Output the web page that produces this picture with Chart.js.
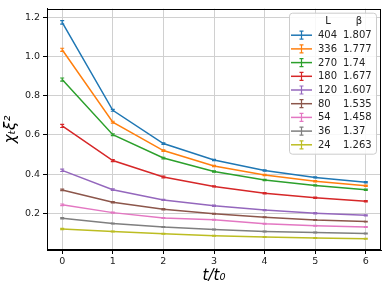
<!DOCTYPE html>
<html><head><meta charset="utf-8">
<script src="https://cdn.jsdelivr.net/npm/chart.js@4/dist/chart.umd.min.js"></script>
<style>html,body{margin:0;padding:0;background:#fff}#wrap{width:382px;height:283px}</style>
</head><body><div id="wrap"><canvas id="c" width="382" height="283"></canvas></div>
<script>
const tValues = [0, 1, 2, 3, 4, 5, 6];
const L = [404, 336, 270, 180, 120, 80, 54, 36, 24];
const beta = ['1.807', '1.777', '1.74', '1.677', '1.607', '1.535', '1.458', '1.37', '1.263'];
const chi404 = [1.175, 0.726, 0.556, 0.472, 0.418, 0.383, 0.358];
const chi336 = [1.035, 0.665, 0.520, 0.441, 0.395, 0.363, 0.340];
const chi270 = [0.883, 0.601, 0.482, 0.413, 0.370, 0.342, 0.320];
const chi180 = [0.646, 0.469, 0.385, 0.337, 0.302, 0.279, 0.261];
const chi120 = [0.419, 0.320, 0.268, 0.238, 0.216, 0.200, 0.189];
const chi80  = [0.319, 0.256, 0.220, 0.197, 0.179, 0.165, 0.157];
const chi54  = [0.243, 0.203, 0.175, 0.167, 0.146, 0.136, 0.129];
const chi36  = [0.174, 0.147, 0.129, 0.117, 0.107, 0.101, 0.096];
const chi24  = [0.119, 0.107, 0.095, 0.085, 0.078, 0.073, 0.070];
const err404 = [0.009, 0.005, 0.004, 0.003, 0.003, 0.003, 0.003];
const err336 = [0.008, 0.005, 0.004, 0.003, 0.003, 0.003, 0.003];
const err270 = [0.008, 0.005, 0.004, 0.003, 0.003, 0.003, 0.003];
const err180 = [0.008, 0.005, 0.004, 0.003, 0.003, 0.003, 0.003];
const err120 = [0.006, 0.004, 0.003, 0.003, 0.003, 0.003, 0.003];
const err80  = [0.004, 0.003, 0.003, 0.002, 0.002, 0.002, 0.002];
const err54  = [0.004, 0.003, 0.002, 0.002, 0.002, 0.002, 0.002];
const err36  = [0.003, 0.002, 0.002, 0.002, 0.002, 0.002, 0.002];
const err24  = [0.003, 0.002, 0.002, 0.002, 0.002, 0.002, 0.002];
const yTicks = [0.2, 0.4, 0.6, 0.8, 1.0, 1.2];
const xTicks = [0, 1, 2, 3, 4, 5, 6];

const series = [chi404, chi336, chi270, chi180, chi120, chi80, chi54, chi36, chi24];
const errs = [err404, err336, err270, err180, err120, err80, err54, err36, err24];
const colors = ['#1f77b4', '#ff7f0e', '#2ca02c', '#d62728', '#9467bd', '#8c564b', '#e377c2', '#7f7f7f', '#bcbd22'];
const FONT = 'DejaVu Sans';

const datasets = series.map((s, i) => ({
  label: String(L[i]),
  beta: beta[i],
  errors: errs[i],
  data: tValues.map((t, j) => ({x: t, y: s[j]})),
  borderColor: colors[i],
  backgroundColor: colors[i],
  borderWidth: 1.5,
  pointRadius: 0,
  showLine: true,
  tension: 0
}));

const errorBars = {
  id: 'errorBars',
  afterDatasetsDraw(chart) {
    const ctx = chart.ctx, xs = chart.scales.x, ys = chart.scales.y;
    ctx.save();
    chart.data.datasets.forEach(ds => {
      ctx.strokeStyle = ds.borderColor;
      ctx.lineWidth = 1.2;
      ds.data.forEach((p, j) => {
        const e = ds.errors[j];
        const px = xs.getPixelForValue(p.x);
        const y1 = ys.getPixelForValue(p.y - e), y2 = ys.getPixelForValue(p.y + e);
        ctx.beginPath();
        ctx.moveTo(px, y1); ctx.lineTo(px, y2);
        ctx.moveTo(px - 2, y1); ctx.lineTo(px + 2, y1);
        ctx.moveTo(px - 2, y2); ctx.lineTo(px + 2, y2);
        ctx.stroke();
      });
    });
    ctx.restore();
  }
};

const frameAndLegend = {
  id: 'frameAndLegend',
  afterDraw(chart) {
    const ctx = chart.ctx, a = chart.chartArea;
    ctx.save();
    ctx.strokeStyle = '#000';
    ctx.lineWidth = 1;
    ctx.strokeRect(Math.round(a.left) + 0.5, Math.round(a.top) + 0.5, Math.round(a.right - a.left) - 1, Math.round(a.bottom - a.top) - 1);
    // legend
    const bx = a.right - 92, by = a.top + 4, bw = 87, bh = 141;
    ctx.fillStyle = 'rgba(255,255,255,0.85)';
    ctx.strokeStyle = '#cccccc';
    ctx.beginPath();
    ctx.roundRect(bx + 0.5, by + 0.5, bw, bh, 3);
    ctx.fill(); ctx.stroke();
    ctx.fillStyle = '#222';
    ctx.font = '10px "' + FONT + '"';
    ctx.textBaseline = 'middle';
    ctx.textAlign = 'center';
    ctx.fillText('L', bx + 39, by + 9);
    ctx.fillText('β', bx + 70, by + 9);
    chart.data.datasets.forEach((ds, i) => {
      const ry = by + 22.5 + i * 13.7;
      ctx.strokeStyle = ds.borderColor;
      ctx.lineWidth = 1.5;
      ctx.beginPath();
      ctx.moveTo(bx + 2, ry); ctx.lineTo(bx + 23, ry);
      ctx.stroke();
      ctx.lineWidth = 1.2;
      const cx = bx + 12.5;
      ctx.beginPath();
      ctx.moveTo(cx, ry - 4); ctx.lineTo(cx, ry + 4);
      ctx.moveTo(cx - 2, ry - 4); ctx.lineTo(cx + 2, ry - 4);
      ctx.moveTo(cx - 2, ry + 4); ctx.lineTo(cx + 2, ry + 4);
      ctx.stroke();
      ctx.fillStyle = '#222';
      ctx.textAlign = 'left';
      ctx.fillText(ds.label, bx + 29, ry + 0.5);
      ctx.fillText(ds.beta, bx + 54, ry + 0.5);
    });
    ctx.restore();
  }
};

new Chart(document.getElementById('c'), {
  type: 'scatter',
  data: {datasets},
  options: {
    responsive: false,
    animation: false,
    devicePixelRatio: 1,
    layout: {padding: {top: 1, right: 1, left: 2, bottom: 0}},
    plugins: {legend: {display: false}, tooltip: {enabled: false}},
    scales: {
      x: {
        type: 'linear', min: -0.3, max: 6.3,
        afterBuildTicks(s) { s.ticks = xTicks.map(v => ({value: v})); },
        afterFit(s) { s.height = 33; },
        grid: {color: '#d0d0d0', lineWidth: 1, tickLength: 4, tickColor: '#000', drawTicks: true},
        border: {color: '#000', width: 1},
        ticks: {color: '#222', font: {family: FONT, size: 9.5}, padding: 2, maxRotation: 0, callback: v => String(v)},
        title: {display: true, text: 't/t₀', color: '#000', font: {family: FONT, size: 15, style: 'italic'}, padding: {top: 3, bottom: -2}}
      },
      y: {
        type: 'linear', min: 0.012, max: 1.245,
        afterBuildTicks(s) { s.ticks = yTicks.map(v => ({value: v})); },
        afterFit(s) { s.width = 45; },
        grid: {color: '#d0d0d0', lineWidth: 1, tickLength: 4, tickColor: '#000', drawTicks: true},
        border: {color: '#000', width: 1},
        ticks: {color: '#222', font: {family: FONT, size: 9.5}, padding: 3, callback: v => v.toFixed(1)},
        title: {display: true, text: 'χₜξ²', color: '#000', font: {family: FONT, size: 15, style: 'italic'}, padding: {top: 0, bottom: 2}}
      }
    }
  },
  plugins: [errorBars, frameAndLegend]
});
</script></body></html>
